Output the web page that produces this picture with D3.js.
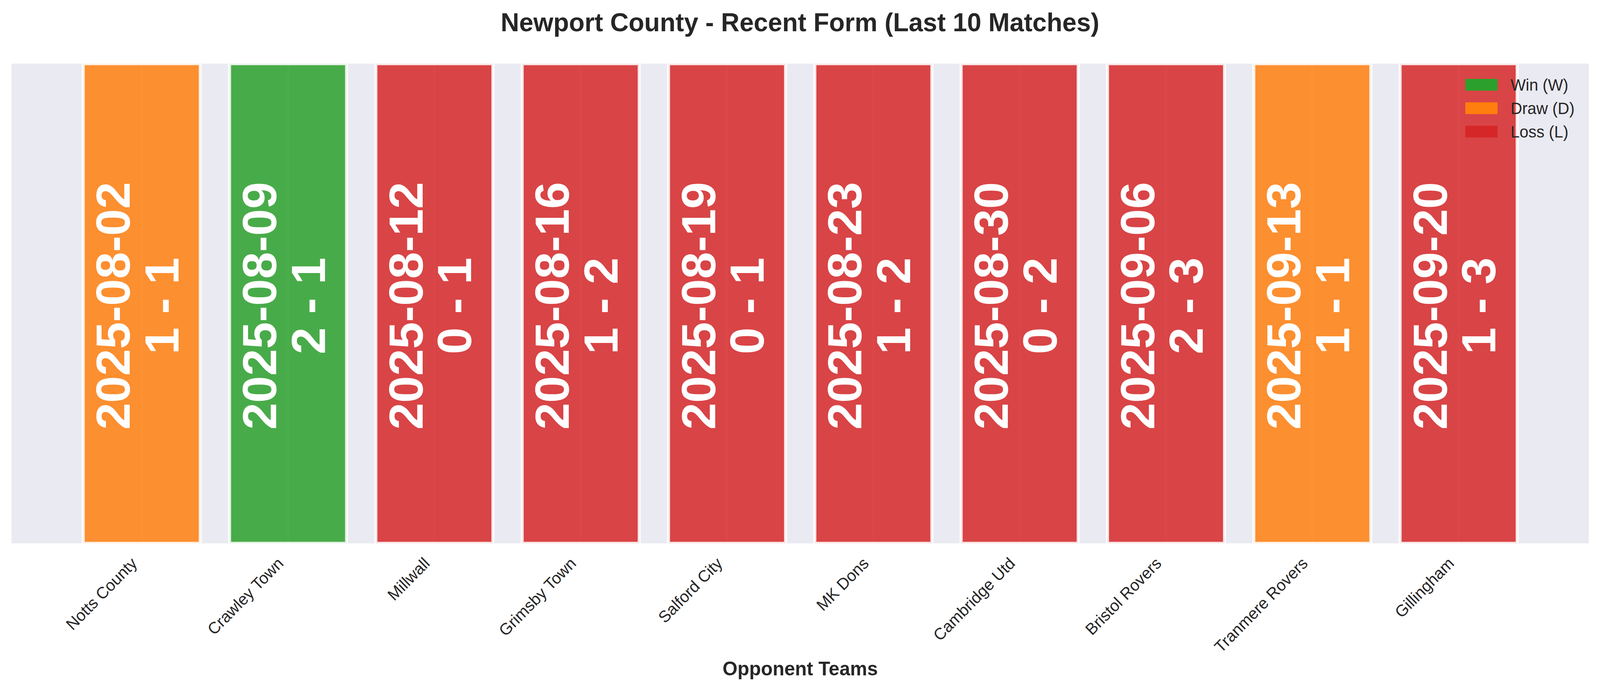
<!DOCTYPE html>
<html>
<head>
<meta charset="utf-8">
<script src="https://cdn.jsdelivr.net/npm/d3@7"></script>
<style>
  html, body { margin: 0; padding: 0; background: #ffffff; overflow: hidden; }
  svg { display: block; }
  text { font-family: "Liberation Sans", Arial, "DejaVu Sans", sans-serif; }
</style>
</head>
<body>
<svg id="chart"></svg>
<script>
// ---- data ----
const opponents = ["Notts County", "Crawley Town", "Millwall", "Grimsby Town", "Salford City",
                   "MK Dons", "Cambridge Utd", "Bristol Rovers", "Tranmere Rovers", "Gillingham"];
const matchDates = ["2025-08-02", "2025-08-09", "2025-08-12", "2025-08-16", "2025-08-19",
                    "2025-08-23", "2025-08-30", "2025-09-06", "2025-09-13", "2025-09-20"];
const scores = ["1 - 1", "2 - 1", "0 - 1", "1 - 2", "0 - 1", "1 - 2", "0 - 2", "2 - 3", "1 - 1", "1 - 3"];
const results = ["D", "W", "L", "L", "L", "L", "L", "L", "D", "L"];
const barValues = [1, 1, 1, 1, 1, 1, 1, 1, 1, 1];
const legendKeys = ["W", "D", "L"];
const legendLabels = ["Win (W)", "Draw (D)", "Loss (L)"];
const resultColors = ["#2ca02c", "#ff7f0e", "#d62728"];

const titleText = "Newport County - Recent Form (Last 10 Matches)";
const xLabelText = "Opponent Teams";

// ---- layout ----
const W = 4170, H = 1769;
const plot = { left: 30, right: 4141, top: 163, bottom: 1391 };
const textColor = "#262626";
const barAlpha = 0.85;

const vw = window.innerWidth || W, vh = window.innerHeight || H;
const svg = d3.select("#chart")
  .attr("width", vw).attr("height", vh)
  .attr("viewBox", `0 0 ${W} ${H}`)
  .attr("preserveAspectRatio", "none");

const x = d3.scaleLinear().domain([-0.89, 9.89]).range([plot.left, plot.right]);
const y = d3.scaleLinear().domain([0, 1]).range([plot.bottom, plot.top]);
const color = d3.scaleOrdinal().domain(legendKeys).range(resultColors);
const barW = 0.8;

// background
svg.append("rect")
  .attr("x", plot.left).attr("y", plot.top)
  .attr("width", plot.right - plot.left).attr("height", plot.bottom - plot.top)
  .attr("fill", "#eaeaf2");

// clip
svg.append("clipPath").attr("id", "plotclip")
  .append("rect")
  .attr("x", plot.left).attr("y", plot.top)
  .attr("width", plot.right - plot.left).attr("height", plot.bottom - plot.top);

const inner = svg.append("g").attr("clip-path", "url(#plotclip)");

// vertical grid lines at ticks
inner.selectAll("line.grid").data(d3.range(opponents.length)).enter()
  .append("line").attr("class", "grid")
  .attr("x1", d => x(d)).attr("x2", d => x(d))
  .attr("y1", plot.top).attr("y2", plot.bottom)
  .attr("stroke", "#ffffff").attr("stroke-width", 4.2);

// bars
inner.selectAll("rect.bar").data(barValues).enter()
  .append("rect").attr("class", "bar")
  .attr("x", (d, i) => x(i - barW / 2))
  .attr("width", (d, i) => x(i + barW / 2) - x(i - barW / 2))
  .attr("y", d => y(d))
  .attr("height", d => y(0) - y(d))
  .attr("fill", (d, i) => color(results[i]))
  .attr("fill-opacity", barAlpha)
  .attr("stroke", "#ffffff")
  .attr("stroke-opacity", barAlpha)
  .attr("stroke-width", 8);

// bar labels (rotated)
const labelG = svg.append("g");
const lbl = labelG.selectAll("text.barlabel").data(barValues).enter()
  .append("text").attr("class", "barlabel")
  .attr("transform", (d, i) => `translate(${x(i)},${y(d / 2) + 6}) rotate(-90)`)
  .attr("text-anchor", "middle")
  .attr("fill", "#ffffff")
  .attr("font-weight", "bold")
  .attr("font-size", 124);
lbl.append("tspan").attr("x", 0).attr("y", -31).text((d, i) => matchDates[i]);
lbl.append("tspan").attr("x", 0).attr("y", 96).text((d, i) => scores[i]);

// x axis
const xAxis = d3.axisBottom(x)
  .tickValues(d3.range(opponents.length))
  .tickFormat(i => opponents[i])
  .tickSize(0);
const axG = svg.append("g").attr("transform", `translate(0,${plot.bottom})`).call(xAxis);
axG.select(".domain").remove();
axG.selectAll(".tick text")
  .attr("x", 0).attr("y", 0).attr("dy", null)
  .attr("transform", "translate(-10,54) rotate(-45)")
  .attr("text-anchor", "end")
  .attr("fill", textColor)
  .attr("font-size", 41.7)
  .attr("font-family", "Liberation Sans, Arial, sans-serif");

// x label
svg.append("text")
  .attr("x", (plot.left + plot.right) / 2).attr("y", 1729)
  .attr("text-anchor", "middle")
  .attr("fill", textColor)
  .attr("font-weight", "bold")
  .attr("font-size", 50)
  .text(xLabelText);

// title
svg.append("text")
  .attr("x", W / 2).attr("y", 80)
  .attr("text-anchor", "middle")
  .attr("fill", textColor)
  .attr("font-weight", "bold")
  .attr("font-size", 66.7)
  .text(titleText);

// legend
const leg = svg.append("g").attr("transform", "translate(3819,202)");
const items = leg.selectAll("g.item").data(legendKeys).enter()
  .append("g").attr("class", "item")
  .attr("transform", (d, i) => `translate(0,${i * 60})`);
items.append("rect")
  .attr("width", 84).attr("height", 30)
  .attr("fill", d => color(d));
items.append("text")
  .attr("x", 118).attr("y", 30)
  .attr("fill", textColor)
  .attr("font-size", 41.7)
  .text((d, i) => legendLabels[i]);
</script>
</body>
</html>
